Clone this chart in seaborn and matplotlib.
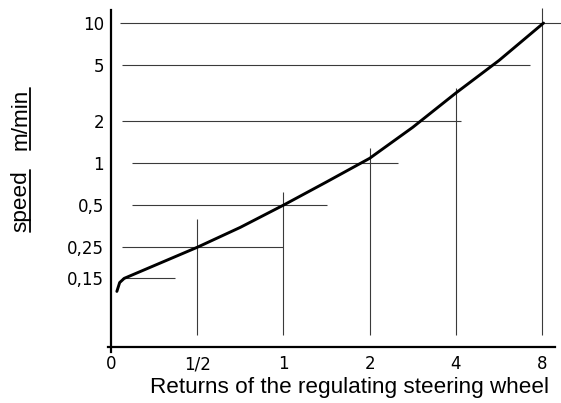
import matplotlib
matplotlib.use('Agg')
import matplotlib.pyplot as plt
import matplotlib.ticker as mticker
from matplotlib.lines import Line2D
import seaborn as sns
import pandas as pd

# curve: speed (m/min) against returns of the steering wheel
turns = [0.262, 0.268, 0.278, 0.5, 0.707, 1.0, 1.41, 2.0, 2.83, 4.0, 5.66, 8.1]
speed = [0.121, 0.14, 0.15, 0.25, 0.347, 0.5, 0.73, 1.08, 1.8, 3.16, 5.4, 10.0]

# axis ticks (the "0" sits one doubling left of 1/2)
x_ticks = [0.25, 0.5, 1, 2, 4, 8]
x_labels = ['0', '1/2', '1', '2', '4', '8']
y_ticks = [0.15, 0.25, 0.5, 1, 2, 5, 10]
y_labels = ['0,15', '0,25', '0,5', '1', '2', '5', '10']
y_minor = [7.07, 3.16, 1.41, 0.707, 0.354, 0.194, 0.085]

# guide lines: horizontal at each speed (from turns .. to turns)
h_level = [10, 5, 2, 1, 0.5, 0.25, 0.15]
h_start = [0.269, 0.274, 0.274, 0.296, 0.296, 0.272, 0.272]
h_end = [9.3, 7.27, 4.17, 2.51, 1.42, 1.0, 0.418]
# vertical at each turns value (from bottom .. up to speed)
v_turns = [0.5, 1, 2, 4, 8]
v_top = [0.40, 0.62, 1.28, 3.43, 12.8]
v_bottom = 0.059

df = pd.DataFrame({'turns': turns, 'speed': speed})

sns.set_style('white')

fig = plt.figure(figsize=(5.61, 4.03), dpi=100)
ax = fig.add_axes([108 / 561, 1 - 352.1 / 403, 452.7 / 561, 347.3 / 403])

ax.set_xscale('log', base=2)
ax.set_yscale('log')
ax.set_xlim(0.244, 9.3)
ax.set_ylim(0.0446, 13.5)

# guide lines
ax.hlines(h_level, h_start, h_end, color='#3a3a3a', lw=0.8, clip_on=False)
ax.vlines(v_turns, v_bottom, v_top, color='#3a3a3a', lw=0.8, clip_on=False)

sns.lineplot(data=df, x='turns', y='speed', sort=False, estimator=None,
             color='black', lw=2.1, ax=ax)

# axes like the drawing
for s in ['top', 'right']:
    ax.spines[s].set_visible(False)
ax.spines['left'].set_position(('data', 0.25))
ax.spines['left'].set_bounds(0.0446, 12.4)
ax.spines['bottom'].set_position(('data', 0.0485))
ax.spines['bottom'].set_bounds(0.244, 8.9)
for s in ['left', 'bottom']:
    ax.spines[s].set_color('black')
    ax.spines[s].set_linewidth(1.6)

ax.xaxis.set_major_locator(mticker.FixedLocator(x_ticks))
ax.xaxis.set_major_formatter(mticker.FixedFormatter(x_labels))
ax.xaxis.set_minor_locator(mticker.NullLocator())
ax.yaxis.set_major_locator(mticker.FixedLocator(y_ticks))
ax.yaxis.set_major_formatter(mticker.FixedFormatter(y_labels))
ax.yaxis.set_minor_locator(mticker.FixedLocator(y_minor))
ax.yaxis.set_minor_formatter(mticker.NullFormatter())

ax.tick_params(axis='both', which='both', direction='inout', length=8, width=1.3,
               color='black', labelsize=12, labelcolor='black')
ax.tick_params(axis='x', pad=2)
ax.tick_params(axis='y', pad=1)
ax.set_xlabel('')
ax.set_ylabel('')

fig.text(349 / 561, 1 - 388 / 403, 'Returns of the regulating steering wheel',
         ha='center', va='center', fontsize=16.2, family='Liberation Sans', color='black')

# underlined y label, two words
words = []
for w, yc in [('m/min', 119), ('speed', 201)]:
    words.append(fig.text(21 / 561, 1 - yc / 403, w, ha='center', va='center',
                          rotation=90, fontsize=16.2, family='Liberation Sans', color='black'))
fig.canvas.draw()
for t in words:
    bb = t.get_window_extent()
    fig.add_artist(Line2D([30 / 561, 30 / 561], [bb.y0 / 403, bb.y1 / 403],
                          transform=fig.transFigure, color='black', lw=1.3))

fig.savefig('out.png', dpi=100)
